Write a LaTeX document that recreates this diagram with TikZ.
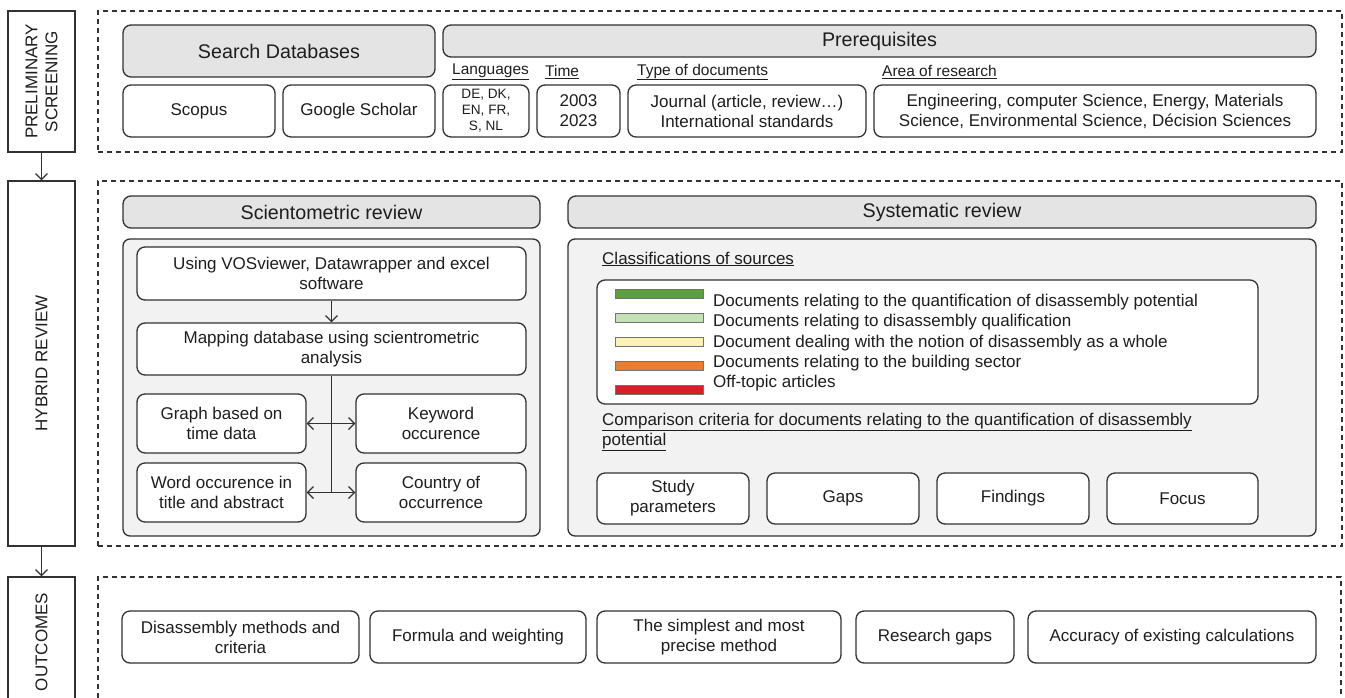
\documentclass[tikz,border=0pt]{standalone}
\usepackage{fontspec}
\setmainfont{Liberation Sans}
\usetikzlibrary{arrows.meta}
\definecolor{linec}{RGB}{50,50,50}
\definecolor{txtc}{RGB}{30,30,30}
\definecolor{hdrgrey}{RGB}{228,228,228}
\definecolor{panelgrey}{RGB}{242,242,242}
\definecolor{barA}{RGB}{92,160,62}
\definecolor{barB}{RGB}{197,224,180}
\definecolor{barC}{RGB}{250,243,180}
\definecolor{barD}{RGB}{233,125,52}
\definecolor{barE}{RGB}{218,30,40}
\newcommand\bodyfont{\fontsize{17}{20}\selectfont}
\newcommand\hdrfont{\fontsize{19.7}{23}\selectfont}
\newcommand\labfont{\fontsize{15.5}{18}\selectfont}
\newcommand\langfont{\fontsize{13.6}{16}\selectfont}
% style, name, x1, y1, x2, y2, text
\newcommand\mkbox[7]{\node[#1, minimum width={(#5-#3)*1pt}, minimum height={(#6-#4)*1pt}] (#2) at ({(#3+#5)/2},{-(#4+#6)/2}) {#7};}
\tikzset{
  rbox/.style={draw=linec, line width=1.3pt, rounded corners=8pt, fill=white, align=center, inner sep=0pt, text=txtc, font=\bodyfont},
  hdr/.style={rbox, fill=hdrgrey, font=\hdrfont},
  panel/.style={draw=linec, line width=1.3pt, rounded corners=7pt, fill=panelgrey, inner sep=0pt},
  dashbox/.style={draw=linec, line width=1.2pt, dash pattern=on 5pt off 4pt, inner sep=0pt},
  sidebox/.style={draw=linec, line width=1.3pt, inner sep=0pt},
  sidetext/.style={rotate=90, align=center, font=\bodyfont, text=txtc, inner sep=0pt},
  lab/.style={anchor=west, inner sep=0pt, font=\labfont, text=txtc},
  legtext/.style={anchor=west, inner sep=0pt, font=\bodyfont, text=txtc},
  legbar/.style={draw=black!55, line width=0.8pt, minimum width=88pt, minimum height=9pt, inner sep=0pt},
  conn/.style={draw=linec, line width=1.2pt},
  arr/.style={conn, -{Straight Barb[length=6pt, width=12pt]}},
  darr/.style={conn, {Straight Barb[length=6pt, width=12pt]}-{Straight Barb[length=6pt, width=12pt]}}
}
\begin{document}
\begin{tikzpicture}[x=1pt, y=1pt]
\clip (0,0) rectangle (1345,-697);
\fill[white] (0,0) rectangle (1345,-697);

% ---------- side labels ----------
\mkbox{sidebox}{sideA}{8}{11}{75}{152}{}
\mkbox{sidebox}{sideB}{8}{181}{75}{546}{}
\mkbox{sidebox}{sideC}{8}{577}{75}{720}{}
\node[sidetext] (sideAt) at (41.5,-81.5) {PRELIMINARY\\SCREENING};
\node[sidetext] (sideBt) at (41.5,-363.5) {HYBRID REVIEW};
\node[sidetext] (sideCt) at (41.5,-642) {OUTCOMES};
\draw[arr] (sideA.south) -- (sideB.north);
\draw[arr] (sideB.south) -- (sideC.north);

% ---------- dashed frames ----------
\mkbox{dashbox}{frameA}{98}{11}{1342}{152}{}
\mkbox{dashbox}{frameB}{98}{181}{1342}{546}{}
\mkbox{dashbox}{frameC}{98}{577}{1341}{720}{}

% ---------- preliminary screening ----------
\mkbox{hdr}{hdrdb}{123}{25}{435}{77}{Search Databases}
\mkbox{hdr}{hdrpre}{443}{25}{1316}{57}{Prerequisites}
\mkbox{rbox}{scopus}{123}{85}{275}{137}{Scopus}
\mkbox{rbox}{google}{283}{85}{435}{137}{Google Scholar}
\mkbox{rbox, font=\langfont}{lang}{443}{85}{529}{137}{DE, DK,\\EN, FR,\\S, NL}
\mkbox{rbox}{time}{537}{85}{620}{137}{2003\\2023}
\mkbox{rbox}{type}{628}{85}{866}{137}{Journal (article, review…)\\International standards}
\mkbox{rbox}{area}{874}{85}{1316}{137}{Engineering, computer Science, Energy, Materials\\Science, Environmental Science, Décision Sciences}
\node[lab] (lablang) at (452,-72) {\underline{Languages}};
\node[lab] (labtime) at (545,-72) {\underline{Time}};
\node[lab] (labtype) at (637,-72) {\underline{Type of documents}};
\node[lab] (labarea) at (882,-72) {\underline{Area of research}};

% ---------- scientometric review ----------
\mkbox{hdr}{hdrsci}{123}{196}{540}{228}{Scientometric review}
\mkbox{panel}{pansci}{123}{239}{540}{536}{}
\mkbox{rbox}{vos}{137}{247}{526}{300}{Using VOSviewer, Datawrapper and excel\\software}
\mkbox{rbox}{map}{137}{323}{526}{375}{Mapping database using scientrometric\\analysis}
\mkbox{rbox}{graph}{137}{394}{306}{453}{Graph based on\\time data}
\mkbox{rbox}{keyw}{356}{394}{526}{453}{Keyword\\occurence}
\mkbox{rbox}{word}{137}{463}{306}{522}{Word occurence in\\title and abstract}
\mkbox{rbox}{country}{356}{463}{526}{522}{Country of\\occurrence}
\draw[arr] (vos.south) -- (map.north);
\draw[conn] (map.south) -- (map.south |- word.east);
\draw[darr] (graph.east) -- (keyw.west);
\draw[darr] (word.east) -- (country.west);

% ---------- systematic review ----------
\mkbox{hdr}{hdrsys}{568}{196}{1316}{228}{Systematic review}
\mkbox{panel}{pansys}{568}{239}{1316}{536}{}
\node[legtext] (labclass) at (602,-259) {\underline{Classifications of sources}};
\mkbox{rbox}{legend}{597}{280}{1258}{404}{}
\node[legbar, fill=barA] (barone) at (659,-294) {};
\node[legbar, fill=barB] (bartwo) at (659,-318) {};
\node[legbar, fill=barC] (barthree) at (659,-341.5) {};
\node[legbar, fill=barD] (barfour) at (659,-366) {};
\node[legbar, fill=barE] (barfive) at (659,-390) {};
\node[legtext] (legone) at (713,-302) {Documents relating to the quantification of disassembly potential};
\node[legtext] (legtwo) at (713,-322.5) {Documents relating to disassembly qualification};
\node[legtext] (legthree) at (713,-343) {Document dealing with the notion of disassembly as a whole};
\node[legtext] (legfour) at (713,-363) {Documents relating to the building sector};
\node[legtext] (legfive) at (713,-383.5) {Off-topic articles};
\node[legtext, anchor=north west, align=left] (labcomp) at (602,-413) {\underline{Comparison criteria for documents relating to the quantification of disassembly}\\\underline{potential}};
\mkbox{rbox}{study}{597}{473}{749}{524}{Study\\parameters}
\mkbox{rbox}{gaps}{767}{473}{919}{524}{Gaps}
\mkbox{rbox}{findings}{937}{473}{1089}{524}{Findings}
\mkbox{rbox}{focus}{1107}{473}{1258}{524}{Focus}

% ---------- outcomes ----------
\mkbox{rbox}{outA}{122}{611}{359}{663}{Disassembly methods and\\criteria}
\mkbox{rbox}{outB}{370}{611}{586}{663}{Formula and weighting}
\mkbox{rbox}{outC}{597}{611}{841}{663}{The simplest and most\\precise method}
\mkbox{rbox}{outD}{856}{611}{1014}{663}{Research gaps}
\mkbox{rbox}{outE}{1028}{611}{1316}{663}{Accuracy of existing calculations}
\end{tikzpicture}
\end{document}
